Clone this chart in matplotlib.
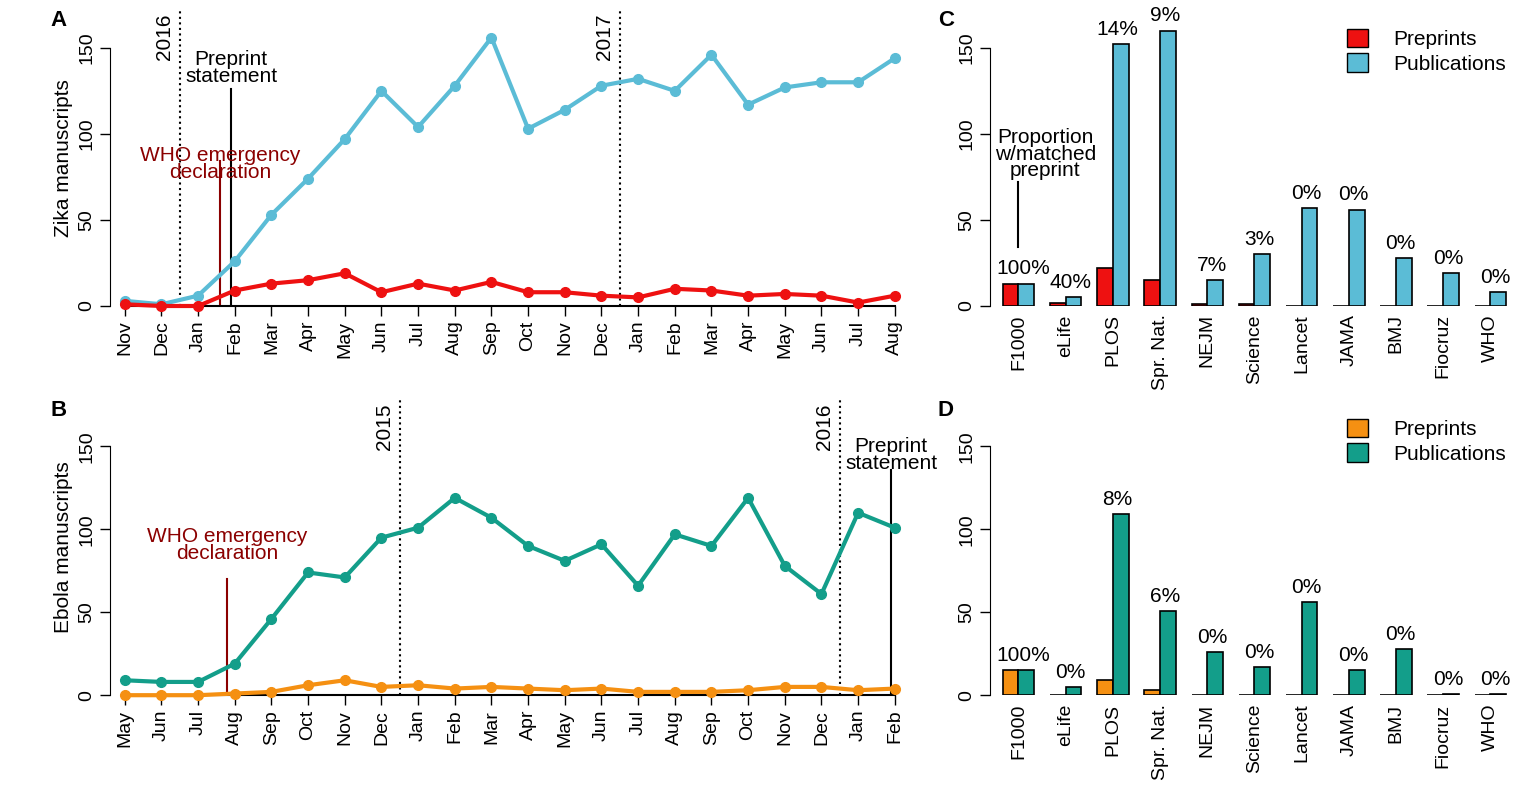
import matplotlib
matplotlib.use("Agg")
import matplotlib.pyplot as plt
from matplotlib.patches import Patch

plt.rcParams['font.family'] = ['Liberation Sans', 'DejaVu Sans']
plt.rcParams['font.size'] = 13

zika_months = ["Nov","Dec","Jan","Feb","Mar","Apr","May","Jun","Jul","Aug","Sep","Oct",
               "Nov","Dec","Jan","Feb","Mar","Apr","May","Jun","Jul","Aug"]
zika_pubs = [3,1,6,26,53,74,97,125,104,128,156,103,114,128,132,125,146,117,127,130,130,144]
zika_pre = [1,0,0,9,13,15,19,8,13,9,14,8,8,6,5,10,9,6,7,6,2,6]

ebola_months = ["May","Jun","Jul","Aug","Sep","Oct","Nov","Dec","Jan","Feb","Mar","Apr",
                "May","Jun","Jul","Aug","Sep","Oct","Nov","Dec","Jan","Feb"]
ebola_pubs = [9,8,8,19,46,74,71,95,101,119,107,90,81,91,66,97,90,119,78,61,110,101]
ebola_pre = [0,0,0,1,2,6,9,5,6,4,5,4,3,4,2,2,2,3,5,5,3,4]

journals = ["F1000","eLife","PLOS","Spr. Nat.","NEJM","Science","Lancet","JAMA","BMJ","Fiocruz","WHO"]
zika_j_pre = [13,2,22,15,1,1,0,0,0,0,0]
zika_j_pub = [13,5,152,160,15,30,57,56,28,19,8]
zika_j_pct = ["100%","40%","14%","9%","7%","3%","0%","0%","0%","0%","0%"]
ebola_j_pre = [15,0,9,3,0,0,0,0,0,0,0]
ebola_j_pub = [15,5,109,51,26,17,56,15,28,1,1]
ebola_j_pct = ["100%","0%","8%","6%","0%","0%","0%","0%","0%","0%","0%"]

fig = plt.figure(figsize=(15.14, 8), dpi=100)

def rstyle(ax, xbounds=None):
    for s in ['top','right']:
        ax.spines[s].set_visible(False)
    ax.spines['left'].set_bounds(0,150)
    ax.set_yticks([0,50,100,150])
    ax.set_yticklabels(['0','50','100','150'], rotation=90, va='center')
    ax.tick_params(length=7, width=1, direction='out', labelsize=14)
    if xbounds is not None:
        ax.spines['bottom'].set_bounds(*xbounds)

def line_panel(ax, months, pubs, pre, cpub, cpre, ylabel, letter, ymax):
    x = list(range(len(months)))
    ax.plot(x, pubs, '-o', color=cpub, lw=3, ms=7, clip_on=False, zorder=3)
    ax.plot(x, pre, '-o', color=cpre, lw=3, ms=7, clip_on=False, zorder=3)
    ax.set_xlim(-0.4, 21.4)
    ax.set_ylim(0, ymax)
    ax.set_xticks(x)
    ax.set_xticklabels(months, rotation=90)
    rstyle(ax, (0, 21))
    ax.spines['bottom'].set_linewidth(1.5)
    ax.set_ylabel(ylabel, fontsize=15)
    ax.text(-0.075, 1.0, letter, transform=ax.transAxes, fontsize=16, fontweight='bold', va='top')

# Panel A
axA = fig.add_axes([0.0727, 0.6175, 0.528, 0.37])
line_panel(axA, zika_months, zika_pubs, zika_pre, '#5bbcd6', '#ee1111', 'Zika manuscripts', 'A', 172)
for xv, lab in [(1.5, '2016'), (13.5, '2017')]:
    axA.axvline(xv, ymin=0, ymax=1, color='black', ls=':', lw=1.5)
    axA.text(xv - 0.15, 170, lab, rotation=90, ha='right', va='top', fontsize=15)
axA.plot([2.9, 2.9], [0, 126], color='black', lw=1.5)
axA.text(2.9, 128, 'Preprint\nstatement', ha='center', va='bottom', fontsize=15, linespacing=0.85)
axA.plot([2.6, 2.6], [0, 84], color='#8b0000', lw=1.5)
axA.text(2.6, 72, 'WHO emergency\ndeclaration', ha='center', va='bottom', fontsize=15,
         color='#8b0000', linespacing=0.85)

# Panel B
axB = fig.add_axes([0.0727, 0.131, 0.528, 0.369])
line_panel(axB, ebola_months, ebola_pubs, ebola_pre, '#139e8a', '#f59012', 'Ebola manuscripts', 'B', 178)
for xv, lab in [(7.5, '2015'), (19.5, '2016')]:
    axB.axvline(xv, color='black', ls=':', lw=1.5)
    axB.text(xv - 0.15, 176, lab, rotation=90, ha='right', va='top', fontsize=15)
axB.plot([20.9, 20.9], [0, 136], color='black', lw=1.5)
axB.text(20.9, 134, 'Preprint\nstatement', ha='center', va='bottom', fontsize=15, linespacing=0.85)
axB.plot([2.8, 2.8], [0, 70], color='#8b0000', lw=1.5)
axB.text(2.8, 80, 'WHO emergency\ndeclaration', ha='center', va='bottom', fontsize=15,
         color='#8b0000', linespacing=0.85)

def bar_panel(ax, pre, pub, pct, cpre, cpub, letter, ymax):
    n = len(journals)
    centers = [3*i + 1.5 for i in range(n)]
    ax.bar([c - 0.5 for c in centers], pre, width=1, color=cpre, edgecolor='black', lw=1.2)
    ax.bar([c + 0.5 for c in centers], pub, width=1, color=cpub, edgecolor='black', lw=1.2)
    for c, v, t in zip(centers, pub, pct):
        ax.text(c + 0.3, v + 3, t, ha='center', va='bottom', fontsize=15)
    ax.set_xlim(-0.3, 3*n)
    ax.set_ylim(0, ymax)
    ax.set_xticks(centers)
    ax.set_xticklabels(journals, rotation=90)
    rstyle(ax)
    ax.spines['bottom'].set_visible(False)
    ax.tick_params(axis='x', length=0, pad=6)
    ax.text(-0.1, 1.0, letter, transform=ax.transAxes, fontsize=16, fontweight='bold', va='top')
    ax.legend(handles=[Patch(facecolor=cpre, edgecolor='black', label='Preprints'),
                       Patch(facecolor=cpub, edgecolor='black', label='Publications')],
              loc='upper right', bbox_to_anchor=(1.02, 1.0), frameon=False, fontsize=15,
              handlelength=1.0, handleheight=1.0, handletextpad=1.2, labelspacing=0.2)

axC = fig.add_axes([0.654, 0.6175, 0.346, 0.37])
bar_panel(axC, zika_j_pre, zika_j_pub, zika_j_pct, '#ee1111', '#5bbcd6', 'C', 172)
axC.plot([1.5, 1.5], [34, 72], color='black', lw=1.5)
axC.text(3.2, 73, 'Proportion\nw/matched\npreprint', ha='center', va='bottom', fontsize=15, linespacing=0.85)

axD = fig.add_axes([0.654, 0.131, 0.346, 0.369])
bar_panel(axD, ebola_j_pre, ebola_j_pub, ebola_j_pct, '#f59012', '#139e8a', 'D', 178)

fig.savefig('out.png', dpi=100)
